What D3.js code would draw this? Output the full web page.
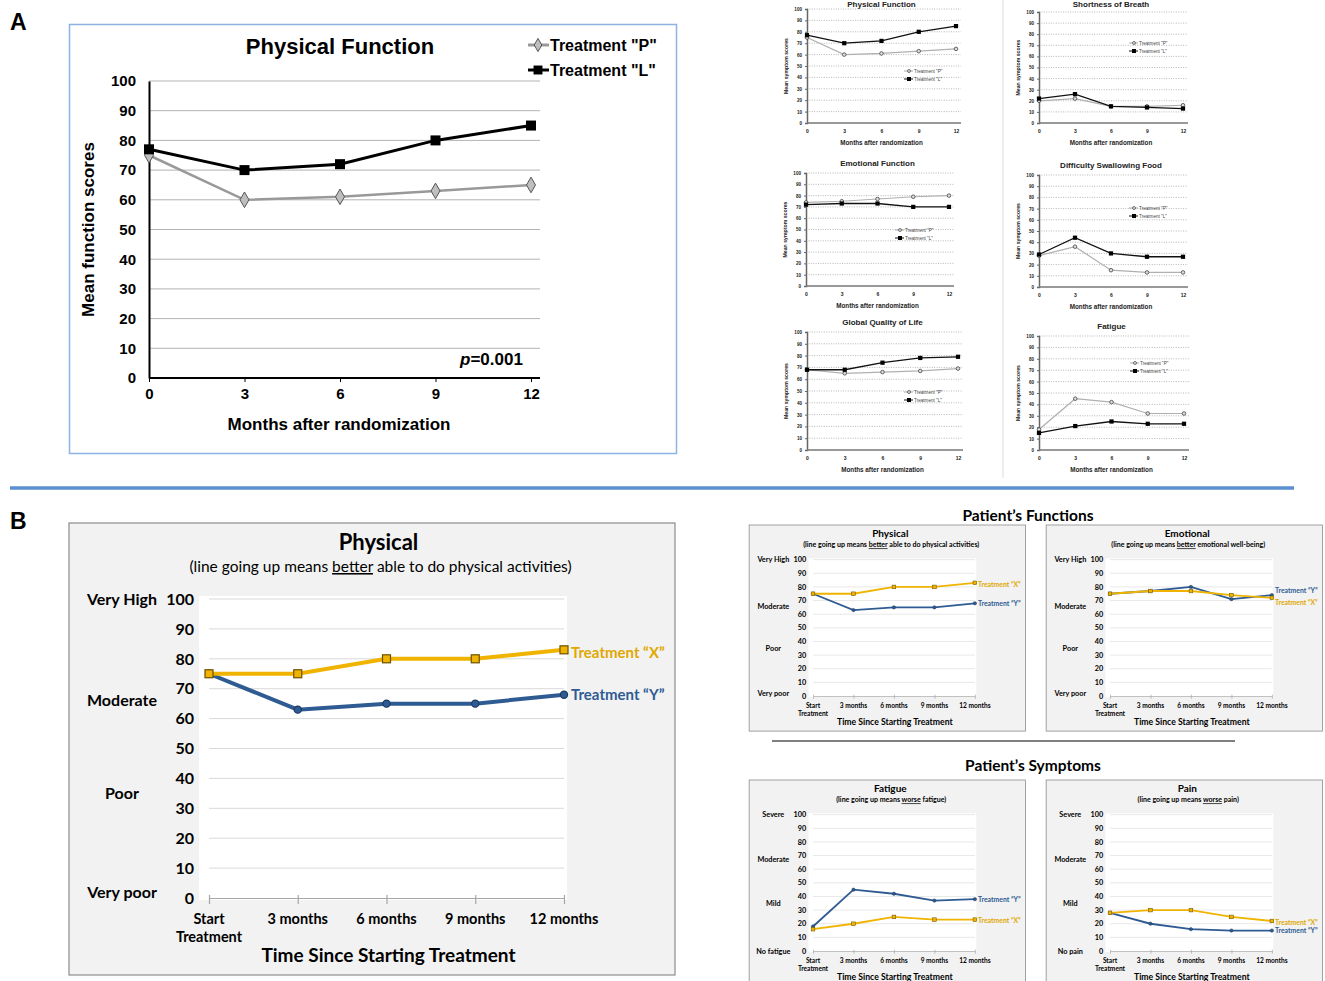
<!DOCTYPE html>
<html>
<head>
<meta charset="utf-8">
<script src="https://cdn.jsdelivr.net/npm/d3@7"></script>
<style>
  body { margin: 0; background: #fff; }
  svg text { font-family: "Liberation Sans", Arial, sans-serif; }
  .cal text { font-family: Lato, "Open Sans", sans-serif; }
</style>
</head>
<body>
<div id="chart"></div>
<script>
// ---- data ----
const months = [0, 3, 6, 9, 12];
const monthLabels = ["Start", "3 months", "6 months", "9 months", "12 months"];
const yTicks = [0, 10, 20, 30, 40, 50, 60, 70, 80, 90, 100];

// panel A: Treatment "P" vs Treatment "L"
const physFuncP = [75, 60, 61, 63, 65];
const physFuncL = [77, 70, 72, 80, 85];
const breathP = [20, 22, 15, 15, 16];
const breathL = [22, 26, 15, 14, 13];
const emoFuncP = [74, 75, 77, 79, 80];
const emoFuncL = [72, 73, 73, 70, 70];
const swallowP = [28, 36, 15, 13, 13];
const swallowL = [29, 44, 30, 27, 27];
const qolP = [68, 65, 66, 67, 69];
const qolL = [68, 68, 74, 78, 79];
const fatigueP = [18, 45, 42, 32, 32];
const fatigueL = [15, 21, 25, 23, 23];

// panel B: Treatment "X" vs Treatment "Y"
const physicalX = [75, 75, 80, 80, 83];
const physicalY = [75, 63, 65, 65, 68];
const emotionalX = [75, 77, 77, 74, 72];
const emotionalY = [75, 77, 80, 71, 74];
const fatigueX = [16, 20, 25, 23, 23];
const fatigueY = [18, 45, 42, 37, 38];
const painX = [28, 30, 30, 25, 22];
const painY = [28, 20, 16, 15, 15];

const funcLevels = ["Very High", "Moderate", "Poor", "Very poor"];
const funcLevelValues = [100, 66, 35, 2];
const fatigueLevels = ["Severe", "Moderate", "Mild", "No fatigue"];
const painLevels = ["Severe", "Moderate", "Mild", "No pain"];
const symLevelValues = [100, 67, 35, 0];

const GOLD = "#f0b400", BLUE = "#2f5b93";

const svg = d3.select("#chart").append("svg")
  .attr("width", 1325).attr("height", 981);

// ---- section labels / separators ----
svg.append("text").attr("x", 10).attr("y", 30).attr("font-size", 23).attr("font-weight", "bold").text("A");
svg.append("text").attr("x", 10).attr("y", 529).attr("font-size", 23).attr("font-weight", "bold").text("B");
svg.append("line").attr("x1", 10).attr("x2", 1294).attr("y1", 488).attr("y2", 488)
  .attr("stroke", "#5b8fd0").attr("stroke-width", 3.5);
svg.append("line").attr("x1", 1003).attr("x2", 1003).attr("y1", 0).attr("y2", 478)
  .attr("stroke", "#dcdcdc").attr("stroke-width", 1);

// ---- big panel A ----
(function bigA() {
  const x = d3.scaleLinear().domain([0, 12]).range([149, 531]);
  const y = d3.scaleLinear().domain([0, 100]).range([378, 81]);
  const g = svg.append("g");
  g.append("rect").attr("x", 69.5).attr("y", 24.5).attr("width", 607).attr("height", 429)
    .attr("fill", "#fff").attr("stroke", "#8db3e2").attr("stroke-width", 1.5);

  g.selectAll(".grid").data(yTicks.filter(d => d > 0)).join("line")
    .attr("x1", x(0)).attr("x2", x(12) + 9)
    .attr("y1", d => y(d)).attr("y2", d => y(d))
    .attr("stroke", "#b3b3b3").attr("stroke-width", 1);

  g.append("g").attr("transform", `translate(${x(0)},0)`)
    .call(d3.axisLeft(y).tickValues(yTicks).tickSize(0).tickPadding(13))
    .call(a => {
      a.select(".domain").attr("stroke", "#000").attr("stroke-width", 2);
      a.selectAll("text").attr("font-size", 15).attr("font-weight", "bold").attr("fill", "#000");
    });
  g.append("g").attr("transform", `translate(0,${y(0)})`)
    .call(d3.axisBottom(x).tickValues(months).tickSize(4).tickSizeOuter(0).tickPadding(6))
    .call(a => {
      a.select(".domain").attr("d", `M${x(0)},0H${x(12) + 9}`).attr("stroke", "#000").attr("stroke-width", 2);
      a.selectAll("line").attr("stroke", "#000");
      a.selectAll("text").attr("font-size", 15).attr("font-weight", "bold").attr("fill", "#000");
    });

  g.append("text").attr("x", 340).attr("y", 54).attr("text-anchor", "middle")
    .attr("font-size", 22).attr("font-weight", "bold").text("Physical Function");
  g.append("text").attr("x", 339).attr("y", 430).attr("text-anchor", "middle")
    .attr("font-size", 17).attr("font-weight", "bold").text("Months after randomization");
  g.append("text").attr("transform", `translate(94,${(y(0) + y(100)) / 2}) rotate(-90)`)
    .attr("text-anchor", "middle").attr("font-size", 17).attr("font-weight", "bold").text("Mean function scores");
  const pt = g.append("text").attr("x", 460).attr("y", 365).attr("font-size", 17).attr("font-weight", "bold");
  pt.append("tspan").attr("font-style", "italic").text("p");
  pt.append("tspan").text("=0.001");

  const line = d3.line().x((d, i) => x(months[i])).y(d => y(d));
  g.append("path").attr("d", line(physFuncP)).attr("fill", "none").attr("stroke", "#999").attr("stroke-width", 2.5);
  g.append("path").attr("d", line(physFuncL)).attr("fill", "none").attr("stroke", "#000").attr("stroke-width", 3);
  g.selectAll(".mp").data(physFuncP).join("path")
    .attr("transform", (d, i) => `translate(${x(months[i])},${y(d)})`)
    .attr("d", d3.symbol(d3.symbolDiamond, 70))
    .attr("fill", "#bfbfbf").attr("stroke", "#555").attr("stroke-width", 1);
  g.selectAll(".ml").data(physFuncL).join("path")
    .attr("transform", (d, i) => `translate(${x(months[i])},${y(d)})`)
    .attr("d", d3.symbol(d3.symbolSquare, 100)).attr("fill", "#000");

  // legend
  const leg = [["Treatment \"P\"", 45, "#999", d3.symbolDiamond, 50, "#bfbfbf"],
               ["Treatment \"L\"", 70, "#000", d3.symbolSquare, 80, "#000"]];
  leg.forEach(([t, ly, c, sym, sz, f]) => {
    g.append("line").attr("x1", 528).attr("x2", 549).attr("y1", ly).attr("y2", ly)
      .attr("stroke", c).attr("stroke-width", 3);
    g.append("path").attr("transform", `translate(538,${ly})`).attr("d", d3.symbol(sym, sz))
      .attr("fill", f).attr("stroke", c === "#000" ? "none" : "#555");
    g.append("text").attr("x", 550).attr("y", ly + 6).attr("font-size", 16).attr("font-weight", "bold").text(t);
  });
})();

// ---- small panels A ----
function smallA(o) {
  const x = d3.scaleLinear().domain([0, 12]).range(o.xr);
  const y = d3.scaleLinear().domain([0, 100]).range(o.yr);
  const g = svg.append("g");
  const x0 = o.xr[0], x1 = o.xr[1];

  g.selectAll(".grid").data(yTicks.filter(d => d > 0)).join("line")
    .attr("x1", x0).attr("x2", x1 + 5)
    .attr("y1", d => y(d)).attr("y2", d => y(d))
    .attr("stroke", "#888").attr("stroke-width", 0.6).attr("stroke-dasharray", "1,1.4");

  g.append("g").attr("transform", `translate(${x0},0)`)
    .call(d3.axisLeft(y).tickValues(yTicks).tickSize(2).tickPadding(3))
    .call(a => {
      a.select(".domain").attr("stroke", "#666").attr("stroke-width", 1.5);
      a.selectAll("line").attr("stroke", "#666");
      a.selectAll("text").attr("font-size", 4.6).attr("font-weight", "bold").attr("fill", "#222");
    });
  g.append("g").attr("transform", `translate(0,${o.yr[0]})`)
    .call(d3.axisBottom(x).tickValues(months).tickSize(0).tickPadding(6))
    .call(a => {
      a.select(".domain").attr("d", `M${x0},0H${x1 + 5}`).attr("stroke", "#777").attr("stroke-width", 1.5);
      a.selectAll("text").attr("font-size", 5).attr("font-weight", "bold").attr("fill", "#222");
    });

  g.append("text").attr("x", (x0 + x1) / 2).attr("y", Math.max(o.yr[1] - 7, 7)).attr("text-anchor", "middle")
    .attr("font-size", 8).attr("font-weight", "bold").attr("fill", "#222").text(o.title);
  g.append("text").attr("x", (x0 + x1) / 2).attr("y", o.yr[0] + 22).attr("text-anchor", "middle")
    .attr("font-size", 6.3).attr("font-weight", "bold").attr("fill", "#222").text("Months after randomization");
  g.append("text").attr("transform", `translate(${x0 - 19},${(o.yr[0] + o.yr[1]) / 2}) rotate(-90)`)
    .attr("text-anchor", "middle").attr("font-size", 5.2).attr("font-weight", "bold").attr("fill", "#222")
    .text("Mean symptom scores");

  const line = d3.line().x((d, i) => x(months[i])).y(d => y(d));
  g.append("path").attr("d", line(o.p)).attr("fill", "none").attr("stroke", "#b0b0b0").attr("stroke-width", 1.2);
  g.append("path").attr("d", line(o.l)).attr("fill", "none").attr("stroke", "#111").attr("stroke-width", 1.3);
  g.selectAll(".mp").data(o.p).join("circle")
    .attr("cx", (d, i) => x(months[i])).attr("cy", d => y(d)).attr("r", 1.8)
    .attr("fill", "#ddd").attr("stroke", "#444").attr("stroke-width", 0.8);
  g.selectAll(".ml").data(o.l).join("path")
    .attr("transform", (d, i) => `translate(${x(months[i])},${y(d)})`)
    .attr("d", d3.symbol(d3.symbolSquare, 18)).attr("fill", "#000");

  [["Treatment \"P\"", 0, "#aaa", false], ["Treatment \"L\"", 8, "#111", true]].forEach(([t, dy, c, sq]) => {
    const ly = o.leg[1] + dy;
    g.append("line").attr("x1", o.leg[0]).attr("x2", o.leg[0] + 9).attr("y1", ly).attr("y2", ly)
      .attr("stroke", c).attr("stroke-width", 1);
    if (sq) g.append("rect").attr("x", o.leg[0] + 3).attr("y", ly - 2).attr("width", 4).attr("height", 4).attr("fill", "#000");
    else g.append("circle").attr("cx", o.leg[0] + 5).attr("cy", ly).attr("r", 1.5).attr("fill", "#ddd").attr("stroke", "#444").attr("stroke-width", 0.7);
    g.append("text").attr("x", o.leg[0] + 10).attr("y", ly + 1.7).attr("font-size", 4.6).attr("fill", "#444").text(t);
  });
}

smallA({ title: "Physical Function", p: physFuncP, l: physFuncL, xr: [807, 956], yr: [123, 9], leg: [904, 71] });
smallA({ title: "Shortness of Breath", p: breathP, l: breathL, xr: [1039, 1183], yr: [123, 12], leg: [1129, 43] });
smallA({ title: "Emotional Function", p: emoFuncP, l: emoFuncL, xr: [806, 949], yr: [286, 173], leg: [895, 230] });
smallA({ title: "Difficulty Swallowing Food", p: swallowP, l: swallowL, xr: [1039, 1183], yr: [287, 175], leg: [1129, 208] });
smallA({ title: "Global Quality of Life", p: qolP, l: qolL, xr: [807, 958], yr: [450, 332], leg: [904, 392] });
smallA({ title: "Fatigue", p: fatigueP, l: fatigueL, xr: [1039, 1184], yr: [450, 336], leg: [1130, 363] });

// ---- panels B ----
function panelB(o) {
  const s = o.s, W = 355 * s, H = 299 * s;
  const x = d3.scalePoint().domain(months).range([o.x0, o.x0 + W]);
  const y = d3.scaleLinear().domain([0, 100]).range([o.y0, o.y0 - H]);
  const g = svg.append("g").attr("class", "cal");

  g.append("rect").attr("x", o.x0 - 140 * s).attr("y", o.y0 - H - 76 * s)
    .attr("width", 606 * s).attr("height", 452 * s)
    .attr("fill", "#f2f2f2").attr("stroke", "#8c8c8c").attr("stroke-width", s < 1 ? 0.8 : 1.2);
  g.append("rect").attr("x", o.x0 - 10 * s).attr("y", o.y0 - H - 3 * s)
    .attr("width", W + 13 * s).attr("height", H + 5 * s).attr("fill", "#fff");

  g.selectAll(".grid").data(yTicks.filter(d => d > 0)).join("line")
    .attr("x1", o.x0).attr("x2", o.x0 + W)
    .attr("y1", d => y(d)).attr("y2", d => y(d))
    .attr("stroke", "#d9d9d9").attr("stroke-width", s < 1 ? 0.6 : 1);

  g.append("g").attr("transform", `translate(0,${o.y0})`)
    .call(d3.axisBottom(x).tickSize(6 * s).tickSizeOuter(0).tickFormat(""))
    .call(a => {
      a.select(".domain").attr("stroke", "#a6a6a6").attr("stroke-width", s < 1 ? 0.7 : 1.2);
      a.selectAll("line").attr("stroke", "#a6a6a6").attr("stroke-width", s < 1 ? 0.7 : 1.2)
        .attr("y1", -3 * s).attr("y2", 6 * s);
    });

  g.selectAll(".yt").data(yTicks).join("text")
    .attr("x", o.x0 - 15 * s).attr("y", d => y(d)).attr("dy", "0.36em")
    .attr("text-anchor", "end").attr("font-size", 16 * s).attr("font-weight", "bold").text(d => d);
  g.selectAll(".lv").data(o.levels).join("text")
    .attr("x", o.x0 - 87 * s).attr("y", (d, i) => y(o.levelValues[i])).attr("dy", "0.36em")
    .attr("text-anchor", "middle").attr("font-size", 16 * s).attr("font-weight", "bold").text(d => d);
  g.selectAll(".xt").data(monthLabels).join("text")
    .attr("x", (d, i) => x(months[i])).attr("y", o.y0 + 26 * s)
    .attr("text-anchor", "middle").attr("font-size", 14.5 * s).attr("font-weight", "bold").text(d => d);
  g.append("text").attr("x", x(0)).attr("y", o.y0 + 44 * s)
    .attr("text-anchor", "middle").attr("font-size", 14.5 * s).attr("font-weight", "bold").text("Treatment");
  g.append("text").attr("x", o.x0 + W / 2 + 2 * s).attr("y", o.y0 + 64 * s)
    .attr("text-anchor", "middle").attr("font-size", 19 * s).attr("font-weight", "bold").text("Time Since Starting Treatment");

  g.append("text").attr("x", o.x0 + W / 2 - 8 * s).attr("y", o.y0 - H - 49 * s)
    .attr("text-anchor", "middle").attr("font-size", 22 * s).attr("font-weight", "bold").text(o.title);
  const st = g.append("text").attr("x", o.x0 + W / 2 - 6 * s).attr("y", o.y0 - H - 27 * s)
    .attr("text-anchor", "middle").attr("font-size", 15.5 * s).attr("font-weight", s < 1 ? "bold" : "normal");
  st.append("tspan").text(o.sub[0]);
  st.append("tspan").attr("text-decoration", "underline").text(o.sub[1]);
  st.append("tspan").text(o.sub[2]);

  const line = d3.line().x((d, i) => x(months[i])).y(d => y(d));
  g.append("path").attr("d", line(o.Y)).attr("fill", "none").attr("stroke", BLUE).attr("stroke-width", 4 * s);
  g.append("path").attr("d", line(o.X)).attr("fill", "none").attr("stroke", GOLD).attr("stroke-width", 4 * s);
  g.selectAll(".my").data(o.Y).join("circle")
    .attr("cx", (d, i) => x(months[i])).attr("cy", d => y(d)).attr("r", 3.6 * s)
    .attr("fill", BLUE).attr("stroke", "#1c3a60").attr("stroke-width", 1.2 * s);
  g.selectAll(".mx").data(o.X).join("rect")
    .attr("x", (d, i) => x(months[i]) - 4 * s).attr("y", d => y(d) - 4 * s)
    .attr("width", 8 * s).attr("height", 8 * s)
    .attr("fill", GOLD).attr("stroke", "#6b5200").attr("stroke-width", 1.2 * s);

  g.append("text").attr("x", o.x0 + W + 7 * s).attr("y", y(o.X[4]) + (o.dX || 3) * s).attr("dy", "0.36em")
    .attr("font-size", 15 * s).attr("font-weight", "bold").attr("fill", "#e0a800").text("Treatment \u201cX\u201d");
  g.append("text").attr("x", o.x0 + W + 7 * s).attr("y", y(o.Y[4]) + (o.dY || 0) * s).attr("dy", "0.36em")
    .attr("font-size", 15 * s).attr("font-weight", "bold").attr("fill", BLUE).text("Treatment \u201cY\u201d");
}

const sm = 0.456;
panelB({ s: 1, x0: 209, y0: 898, title: "Physical", sub: ["(line going up means ", "better", " able to do physical activities)"],
  levels: funcLevels, levelValues: funcLevelValues, X: physicalX, Y: physicalY });
panelB({ s: sm, x0: 813, y0: 696, title: "Physical", sub: ["(line going up means ", "better", " able to do physical activities)"],
  levels: funcLevels, levelValues: funcLevelValues, X: physicalX, Y: physicalY });
panelB({ s: sm, x0: 1110, y0: 696, title: "Emotional", sub: ["(line going up means ", "better", " emotional well-being)"],
  levels: funcLevels, levelValues: funcLevelValues, X: emotionalX, Y: emotionalY, dX: 10, dY: -10 });
panelB({ s: sm, x0: 813, y0: 951, title: "Fatigue", sub: ["(line going up means ", "worse", " fatigue)"],
  levels: fatigueLevels, levelValues: symLevelValues, X: fatigueX, Y: fatigueY });
panelB({ s: sm, x0: 1110, y0: 951, title: "Pain", sub: ["(line going up means ", "worse", " pain)"],
  levels: painLevels, levelValues: symLevelValues, X: painX, Y: painY });

const hd = svg.append("g").attr("class", "cal");
hd.append("text").attr("x", 1028).attr("y", 521).attr("text-anchor", "middle")
  .attr("font-size", 15.5).attr("font-weight", "bold").text("Patient\u2019s Functions");
hd.append("text").attr("x", 1033).attr("y", 771).attr("text-anchor", "middle")
  .attr("font-size", 15.5).attr("font-weight", "bold").text("Patient\u2019s Symptoms");
svg.append("line").attr("x1", 772).attr("x2", 1235).attr("y1", 741).attr("y2", 741)
  .attr("stroke", "#000").attr("stroke-width", 1.2);
</script>
</body>
</html>
